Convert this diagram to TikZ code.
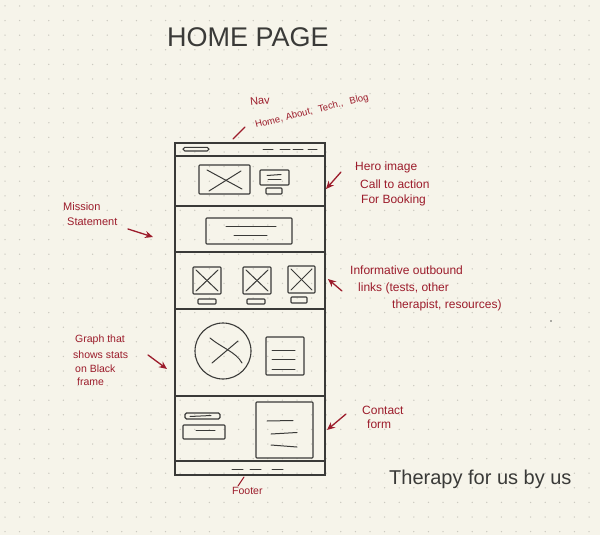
\documentclass[tikz,border=0pt]{standalone}
\usepackage{fontspec}
\setmainfont{Liberation Sans}
\usetikzlibrary{arrows.meta}
\definecolor{paper}{HTML}{F6F4EA}
\definecolor{griddot}{HTML}{CBC9C0}
\definecolor{pen}{HTML}{3A3A38}
\definecolor{ink}{HTML}{9C1C2B}
\begin{document}
\begin{tikzpicture}[x=1pt,y=-1pt,
  frame/.style={draw=pen,line width=1.4pt},
  part/.style={draw=pen,line width=1.1pt,rounded corners=0.8pt},
  stroke/.style={draw=pen,line width=1pt,line cap=round},
  note/.style={text=ink,font=\fontsize{12}{14}\selectfont,inner sep=0pt,anchor=west},
  navword/.style={note,font=\fontsize{9.5}{12}\selectfont,rotate=14,anchor=base west},
  pointer/.style={draw=ink,line width=1.3pt,line cap=round,-{Stealth[length=8pt,width=7pt]}},
  tick/.style={draw=ink,line width=1pt,line cap=round},
  hand/.style={text=pen,inner sep=0pt,anchor=west}]
% paper and dot grid
\fill[paper] (0,0) rectangle (600,535);
\useasboundingbox (0,0) rectangle (600,535);
\foreach \i in {0,...,41}
  \foreach \j in {0,...,36}
    \fill[griddot] (5+\i*14.6,6+\j*14.6) circle[radius=0.75];
\fill[pen!80] (551,321) circle[radius=0.9];

% page outline and section dividers
\draw[frame] (175,143) rectangle (325,475);
\foreach \y in {156,206,252,309,396,461}
  \draw[frame] (175,\y) -- (325,\y);

% navigation bar
\draw[part,rounded corners=1.8pt] (183,147.3) rectangle (209,151);
\foreach \a/\b in {263/273,280/290,293/303,308/317}
  \draw[stroke] (\a,149) -- (\b,149);

% hero image and call to action
\draw[part] (199,165) rectangle (250,194);
\draw[stroke] (207,170) -- (242,189);
\draw[stroke] (209,191) -- (241,171);
\draw[part] (260,170) rectangle (289,185);
\draw[stroke] (267,175.5) -- (281,174.5);
\draw[stroke] (268,179) -- (281,179);
\draw[part] (266,188) rectangle (282,194);

% mission statement block
\draw[part] (206,218) rectangle (292,244);
\draw[stroke] (226,226) -- (276,226);
\draw[stroke] (234,235) -- (267,235);

% three outbound link tiles
\foreach \l/\t/\r/\b/\bl/\bt/\br/\bb in
   {193/267/221/294/198/299/216/304,
    243/267/271/294/247/299/265/304,
    288/266/315/293/291/297/307/303}{
  \draw[part] (\l,\t) rectangle (\r,\b);
  \draw[stroke] (\l+3,\t+3) -- (\r-3,\b-3);
  \draw[stroke] (\l+3,\b-3) -- (\r-3,\t+3);
  \draw[part] (\bl,\bt) rectangle (\br,\bb);
}

% stats graph and its text
\draw[part] (223,351) circle[radius=28];
\draw[stroke] (210,338) .. controls (222,348) and (236,352) .. (242,363);
\draw[stroke] (212,363) -- (238,341);
\draw[part] (266,337) rectangle (304,375);
\foreach \y in {350,359,369}
  \draw[stroke] (272,\y) -- (295,\y);

% contact section
\draw[part,rounded corners=1.5pt] (185,413) rectangle (220,419);
\draw[stroke] (190,416.5) -- (211,415.5);
\draw[part] (183,425) rectangle (225,439);
\draw[stroke] (196,430) -- (215,430);
\draw[part] (256,402) rectangle (313,458);
\draw[stroke] (267,421) -- (293,420.5);
\draw[stroke] (271,434) -- (297,432.5);
\draw[stroke] (271,445) -- (297,447);

% footer links
\foreach \a/\b in {232/243,250/261,272/283}
  \draw[stroke] (\a,469) -- (\b,469);

% headings
\node[hand,font=\fontsize{27}{30}\selectfont] (title) at (167,37) {HOME PAGE};
\node[hand,font=\fontsize{20}{23}\selectfont] (motto) at (389,479) {Therapy for us by us};

% notes
\node[note,font=\fontsize{11}{13}\selectfont,rotate=6] (navA) at (250,102) {Nav};
\node[navword] (navB) at (256,128) {Home,};
\node[navword] (navC) at (286.4,120.4) {About,};
\node[navword] (navD) at (318.9,112.3) {Tech.,};
\node[navword] (navE) at (350.3,104.5) {Blog};
\node[note] (heroA) at (355,167) {Hero image};
\node[note] (heroB) at (360,184) {Call to action};
\node[note] (heroC) at (361,200) {For Booking};
\node[note,font=\fontsize{11}{13}\selectfont] (missA) at (63,207) {Mission};
\node[note,font=\fontsize{11}{13}\selectfont] (missB) at (67,222) {Statement};
\node[note] (linkA) at (350,270) {Informative outbound};
\node[note] (linkB) at (358,288) {links (tests, other};
\node[note] (linkC) at (392,305) {therapist, resources)};
\node[note,font=\fontsize{10.5}{13}\selectfont] (graphA) at (75,340) {Graph that};
\node[note,font=\fontsize{10.5}{13}\selectfont] (graphB) at (73,355) {shows stats};
\node[note,font=\fontsize{10.5}{13}\selectfont] (graphC) at (75,369) {on Black};
\node[note,font=\fontsize{10.5}{13}\selectfont] (graphD) at (77,382) {frame};
\node[note] (contA) at (362,410) {Contact};
\node[note] (contB) at (367,424) {form};
\node[note,font=\fontsize{10.5}{13}\selectfont] (foot) at (232,491) {Footer};

% pointers from notes to sections
\coordinate (navTail) at (245,127);
\coordinate (navHead) at (233,139);
\draw[tick,line width=1.2pt] (navTail) -- (navHead);
\coordinate (heroTail) at (341,172);
\coordinate (heroHead) at (326,189);
\draw[pointer] (heroTail) -- (heroHead);
\coordinate (missTail) at (128,229);
\coordinate (missHead) at (153,237);
\draw[pointer] (missTail) -- (missHead);
\coordinate (linkTail) at (342,291);
\coordinate (linkHead) at (328,279);
\draw[pointer] (linkTail) -- (linkHead);
\coordinate (graphTail) at (148,355);
\coordinate (graphHead) at (167,369);
\draw[pointer] (graphTail) -- (graphHead);
\coordinate (contTail) at (346,414);
\coordinate (contHead) at (327,430);
\draw[pointer] (contTail) -- (contHead);
\coordinate (footTail) at (244,477);
\coordinate (footHead) at (238,486);
\draw[tick] (footTail) -- (footHead);
\end{tikzpicture}
\end{document}
